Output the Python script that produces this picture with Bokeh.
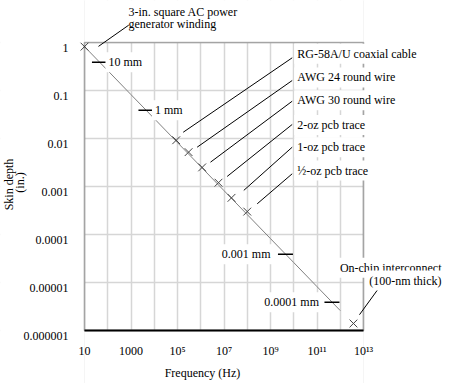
import math
from bokeh.plotting import figure
from bokeh.models import FixedTicker, Label, Arrow, Range1d, BoxAnnotation
from bokeh.embed import file_html
from bokeh.resources import INLINE

# ---- data ----
freq_hz = [10, 1e2, 1e3, 1e4, 1e5, 1e6, 1e7, 1e8, 1e9, 1e10, 1e11, 1e12]
skin_depth_in = [0.82, 0.26, 0.082, 0.026, 0.0082, 0.0026, 8.2e-4, 2.6e-4,
                 8.2e-5, 2.6e-5, 8.2e-6, 2.6e-6]

conductor_names = ["3-in. square AC power generator winding", "RG-58A/U coaxial cable",
                   "AWG 24 round wire", "AWG 30 round wire", "2-oz pcb trace",
                   "1-oz pcb trace", "½-oz pcb trace", "On-chip interconnect (100-nm thick)"]
conductor_freq = [10, 8.8e4, 3.0e5, 1.15e6, 5.8e6, 2.1e7, 1.0e8, 3.7e12]
conductor_depth = [0.82, 0.0092, 0.0052, 0.0025, 0.0012, 5.8e-4, 3.0e-4, 1.4e-6]

mm_labels = ["10 mm", "1 mm", "0.001 mm", "0.0001 mm"]
mm_freq = [44, 4.4e3, 4.4e9, 4.4e11]
mm_depth = [0.39, 0.039, 3.9e-5, 3.9e-6]

x_ticks = [1e1, 1e2, 1e3, 1e4, 1e5, 1e6, 1e7, 1e8, 1e9, 1e10, 1e11, 1e12, 1e13]
x_tick_labels = ["10", "", "1000", "", "10⁵", "", "10⁷", "", "10⁹", "", "10¹¹", "", "10¹³"]
y_ticks = [1e-6, 1e-5, 1e-4, 1e-3, 1e-2, 1e-1, 1.0]
y_tick_labels = ["0.000001", "0.00001", "0.0001", "0.001", "0.01", "0.1", "1"]

X_MIN, X_MAX = 10, 1e13
Y_MIN, Y_MAX = 1e-6, 1.0

# ---- annotation placement (data coordinates) ----
right_leader_start_f = [1.76e5, 7.0e5, 2.62e6, 1.37e7, 7.1e7, 2.68e8]
right_leader_start_d = [0.0135, 0.00659, 0.00321, 0.00162, 8.3e-4, 4.36e-4]
right_leader_end_f = [8.57e9] * 6
right_leader_end_d = [0.48, 0.1615, 0.0598, 0.0196, 0.00659, 0.00184]
right_label_f = 1.05e10
right_label_d = [0.582, 0.187, 0.0627, 0.0191, 0.00659, 0.00215]
mm_label_offsets = [6, 6, -12, -10]

# ---- layout: plot box inside the canvas (pixels) ----
W, H = 446, 383
BOX_L, BOX_R, BOX_T, BOX_B = 84, 363, 42, 330
xd = (math.log10(X_MAX) - math.log10(X_MIN)) / (BOX_R - BOX_L)
yd = (math.log10(Y_MAX) - math.log10(Y_MIN)) / (BOX_B - BOX_T)
x_range = Range1d(10 ** (math.log10(X_MIN) - BOX_L * xd), 10 ** (math.log10(X_MAX) + (W - BOX_R) * xd))
y_range = Range1d(10 ** (math.log10(Y_MIN) - (H - BOX_B) * yd), 10 ** (math.log10(Y_MAX) + BOX_T * yd))
Y_LABEL_DROP = 10 ** (-5.5 * yd)   # tick labels sit ~5 px below their grid line

FONT = "Liberation Serif"
FS = "12px"

p = figure(width=W, height=H, x_axis_type="log", y_axis_type="log",
           x_range=x_range, y_range=y_range,
           output_backend="svg", toolbar_location=None,
           min_border_left=0, min_border_right=0, min_border_top=0, min_border_bottom=0)
p.outline_line_color = None
p.background_fill_color = "white"
p.border_fill_color = "white"

y_label_pos = [t * Y_LABEL_DROP for t in y_ticks]
for ax, ticks, labels in ((p.xaxis[0], x_ticks, x_tick_labels), (p.yaxis[0], y_label_pos, y_tick_labels)):
    ax.ticker = FixedTicker(ticks=ticks, minor_ticks=[])
    ax.major_label_overrides = {t: l for t, l in zip(ticks, labels)}
    ax.major_tick_line_color = None
    ax.minor_tick_line_color = None
    ax.major_label_text_font = FONT
    ax.major_label_text_font_size = FS
    ax.major_label_text_color = "black"
p.xaxis.axis_line_color = "black"
p.xaxis.axis_line_width = 2
p.xaxis.fixed_location = Y_MIN
p.xaxis.bounds = (X_MIN, X_MAX)
p.yaxis.axis_line_color = None
p.yaxis.fixed_location = X_MIN
p.yaxis.bounds = (Y_MIN * 0.5, Y_MAX)
p.xaxis.major_label_standoff = 7
p.yaxis.major_label_standoff = 10

p.xgrid.ticker = FixedTicker(ticks=x_ticks, minor_ticks=[])
p.ygrid.ticker = FixedTicker(ticks=y_ticks, minor_ticks=[])
p.xgrid.grid_line_color = "#d6d6d6"
p.ygrid.grid_line_color = "#d6d6d6"
p.xgrid.grid_line_width = 1.5
p.ygrid.grid_line_width = 1.5

# white masks so the grid stays inside the plot box
BIG, TINY = 1e40, 1e-40
for l, r, b, t in ((TINY, X_MIN, TINY, BIG), (X_MAX, BIG, TINY, BIG),
                   (X_MIN, X_MAX, Y_MAX, BIG), (X_MIN, X_MAX, TINY, Y_MIN)):
    p.add_layout(BoxAnnotation(left=l, right=r, bottom=b, top=t, fill_color="white", fill_alpha=1,
                               line_color=None, level="underlay"))
# plot box border (left/top/right; bottom is the x axis)
p.add_layout(BoxAnnotation(left=X_MIN, right=X_MAX, bottom=Y_MIN, top=Y_MAX, fill_alpha=0,
                           line_color="black", line_width=1.7, level="glyph"))

# skin depth line
p.line(freq_hz, skin_depth_in, line_color="#808080", line_width=1)

# leader lines
p.segment(x0=right_leader_start_f, y0=right_leader_start_d, x1=right_leader_end_f,
          y1=right_leader_end_d, line_color="black", line_width=1)

# conductor markers
p.scatter(conductor_freq, conductor_depth, marker="x", size=11, line_color="#444444", line_width=1)

# mm reference dashes
p.scatter(mm_freq, mm_depth, marker="dash", size=15, line_color="black", line_width=1.5)

def lab(x, y, text, align="left", baseline="middle", bg=None, xo=0, yo=0, angle=0):
    l = Label(x=x, y=y, text=text, text_align=align, text_baseline=baseline,
              text_font=FONT, text_font_size=FS, text_color="black", x_offset=xo, y_offset=yo,
              angle=angle)
    if bg:
        l.background_fill_color = bg
        l.padding = 3
    p.add_layout(l)

for i, name in enumerate(conductor_names[1:7]):
    lab(right_label_f, right_label_d[i], name, bg="white")

for i, t in enumerate(mm_labels):
    lab(mm_freq[i], mm_depth[i], t, align="left" if mm_label_offsets[i] > 0 else "right",
        bg="white", xo=mm_label_offsets[i])

# top-left note
p.add_layout(Arrow(end=None, x_start=40, y_start=0.83, x_end=800, y_end=2.3,
                   line_color="black", line_width=1))
lab(780, 4.3, "3-in. square AC power")
lab(780, 2.4, "generator winding")

# on-chip note
p.add_layout(Arrow(end=None, x_start=6.7e12, y_start=2.13e-6, x_end=4.0e13, y_end=7.0e-6,
                   line_color="black", line_width=1))
lab(3.05e16, 2.02e-5, "On-chip interconnect", align="right", bg="white")
lab(3.05e16, 1.1e-5, "(100-nm thick)", align="right", bg="white")

# axis titles
lab(1.19e6, 1.33e-7, "Frequency (Hz)", align="center")
lab(0.00594, 0.0011, "Skin depth", align="center", angle=math.pi / 2)
lab(0.01766, 0.00121, "(in.)", align="center", angle=math.pi / 2)

open("out.html", "w").write(file_html(p, INLINE))
